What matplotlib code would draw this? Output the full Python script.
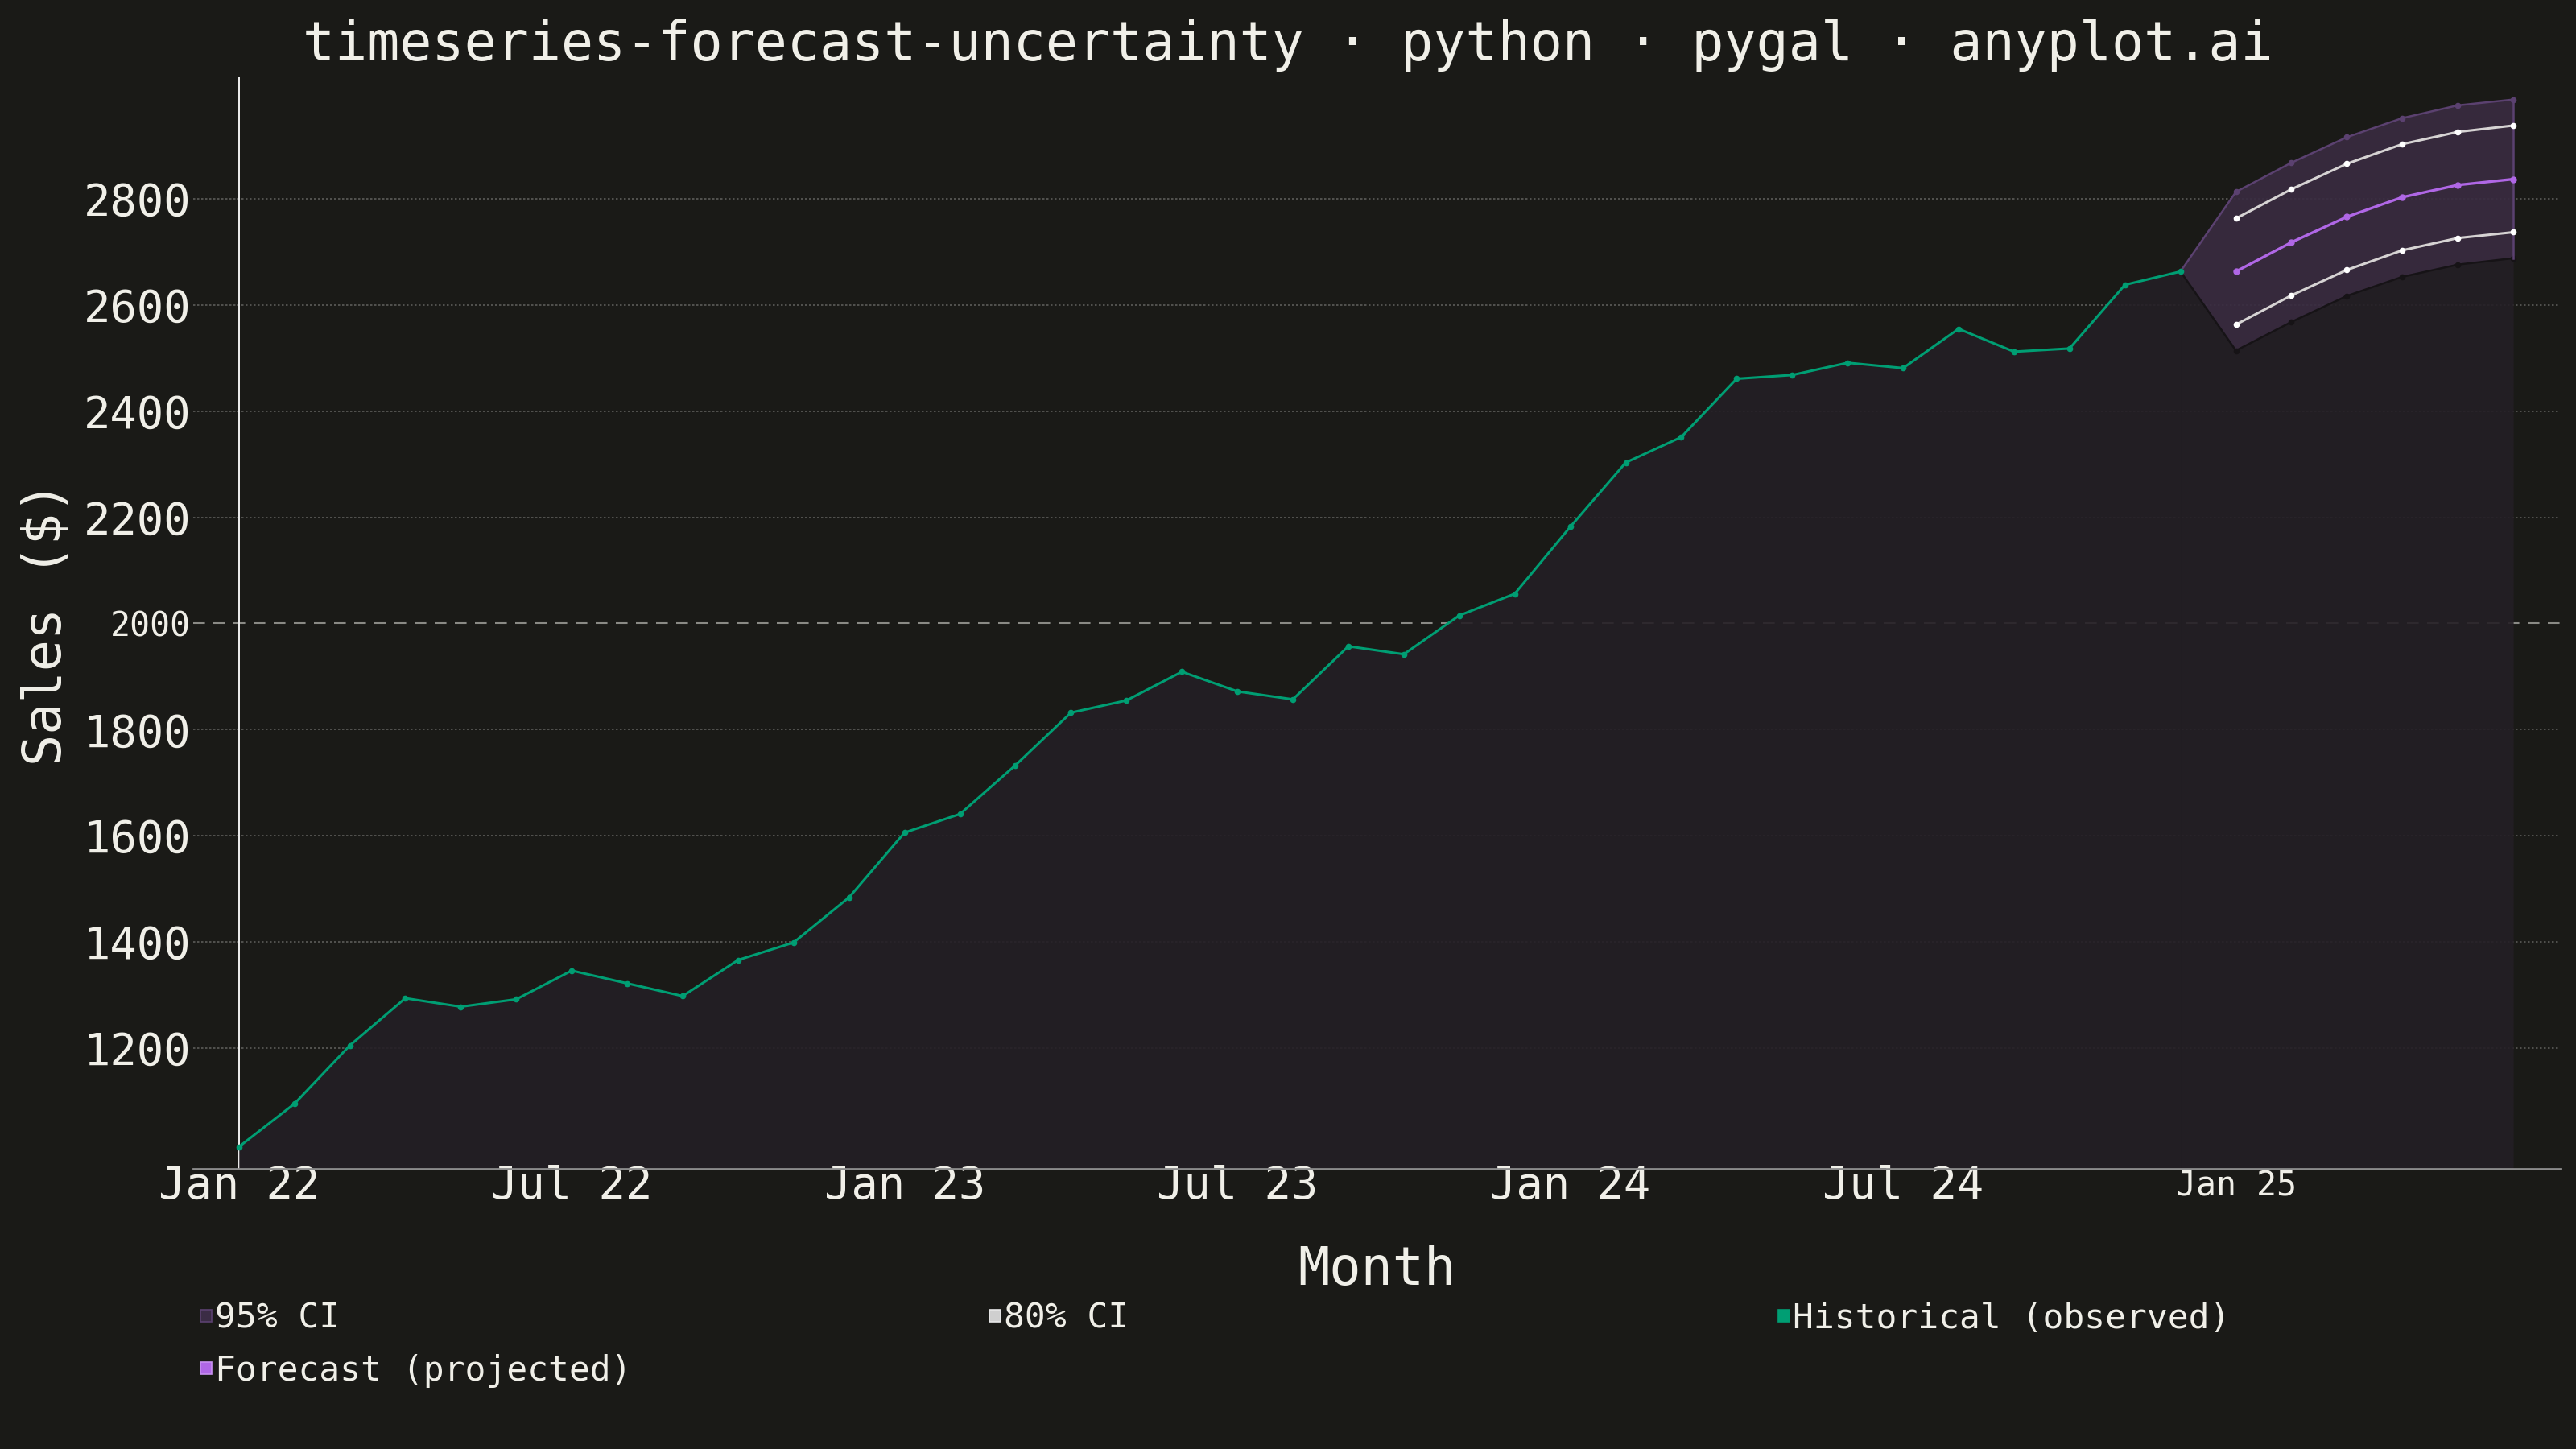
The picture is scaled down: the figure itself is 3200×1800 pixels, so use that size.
import matplotlib
matplotlib.use("Agg")
import matplotlib.pyplot as plt
from matplotlib.patches import Rectangle

# historical monthly sales, Jan 2022 - Dec 2024
hist_sales = [1014, 1095, 1205, 1294, 1278, 1292, 1346, 1322, 1298, 1366, 1399, 1484,
              1606, 1641, 1733, 1832, 1855, 1909, 1872, 1857, 1957, 1942, 2015, 2056,
              2182, 2303, 2351, 2461, 2468, 2491, 2481, 2555, 2512, 2518, 2638, 2663]

# forecast Jan 2025 - Jun 2025
forecast_mean = [2663, 2718, 2766, 2803, 2826, 2837]
ci80_upper = [2763, 2818, 2866, 2903, 2926, 2938]
ci80_lower = [2563, 2618, 2666, 2703, 2726, 2737]
ci95_upper = [2813, 2868, 2916, 2952, 2976, 2987]
ci95_lower = [2514, 2568, 2617, 2653, 2676, 2688]

tick_pos = [0, 6, 12, 18, 24, 30, 36]
tick_labels = ["Jan 22", "Jul 22", "Jan 23", "Jul 23", "Jan 24", "Jul 24", "Jan 25"]
y_ticks = [1200, 1400, 1600, 1800, 2000, 2200, 2400, 2600, 2800]

legend_labels = ["95% CI", "80% CI", "Historical (observed)", "Forecast (projected)"]
legend_colors = ["#3b2c45", "#cfcfcf", "#009e73", "#b067e6"]
legend_edges = ["#5b4170", "#e8e8e8", "#009e73", "#c890f0"]

BG = "#1a1a17"
TXT = "#f0efe8"
AREA = "#241f25"
BAND = "#392b40"
GREEN = "#009e73"
PURPLE = "#b067e6"
DIM = "#5b4170"
LIGHT = "#d6d3d3"

plt.rcParams["font.family"] = ["DejaVu Sans Mono", "DejaVu Sans"]

fig = plt.figure(figsize=(32, 18), dpi=100, facecolor=BG)
ax = fig.add_axes([0.075, 0.1935, 0.91875, 0.7532])
ax.set_facecolor(BG)

n_hist = len(hist_sales)
x_hist = list(range(n_hist))
x_fc = list(range(n_hist, n_hist + len(forecast_mean)))
x_band = [n_hist - 1] + x_fc
band_up = [hist_sales[-1]] + ci95_upper
band_lo = [hist_sales[-1]] + ci95_lower

ymin, ymax = 973, 3029
ax.set_xlim(-0.823, x_fc[-1] + 0.84)
ax.set_ylim(ymin, ymax)

# grid
for t in y_ticks:
    if t == 2000:
        ax.axhline(t, color="#8a8a85", lw=1.5, dashes=(7, 5), zorder=0)
    else:
        ax.axhline(t, color="#5c5c58", lw=1.2, dashes=(1.5, 1.5), zorder=0)

ax.axvline(0, color="#f0f0f0", lw=1.4, zorder=0.5)

# historical area + line
ax.fill_between(x_hist, ymin, hist_sales, color=AREA, alpha=0.9, lw=0, zorder=1)
ax.plot(x_hist, hist_sales, color=GREEN, lw=2.2, marker="o", ms=4.5, zorder=4)

# 95% band
ax.fill_between(x_band, band_lo, band_up, color=BAND, alpha=0.92, lw=0, zorder=2)
ax.fill_between(x_band, ymin, band_lo, color=AREA, alpha=0.9, lw=0, zorder=2)
ax.plot(x_band, band_up, color=DIM, lw=1.8, marker="o", ms=4.5, zorder=3)
ax.plot(x_band, band_lo, color="#161316", lw=1.8, marker="o", ms=4.5, zorder=3)
ax.plot([x_band[-1], x_band[-1]], [band_lo[-1], band_up[-1]], color=DIM, lw=1.8, zorder=3)

# 80% bounds and mean forecast
ax.plot(x_fc, ci80_upper, color=LIGHT, lw=2.2, marker="o", mfc="white", mec="white", ms=4.5, zorder=4)
ax.plot(x_fc, ci80_lower, color=LIGHT, lw=2.2, marker="o", mfc="white", mec="white", ms=4.5, zorder=4)
ax.plot(x_fc, forecast_mean, color=PURPLE, lw=2.4, marker="o", ms=5, zorder=5)

# axes styling
for s in ["top", "right", "left"]:
    ax.spines[s].set_visible(False)
ax.spines["bottom"].set_color("#8c8c8c")
ax.spines["bottom"].set_linewidth(2)

ax.set_xticks(tick_pos)
ax.set_xticklabels(tick_labels)
ax.set_yticks(y_ticks)
ax.set_yticklabels([str(t) for t in y_ticks])
ax.tick_params(axis="x", length=0, pad=16, labelsize=40, colors=TXT)
ax.tick_params(axis="y", length=0, pad=2, labelsize=40, colors=TXT)
for lab in ax.get_xticklabels():
    lab.set_verticalalignment("center")
    if lab.get_text() == "Jan 25":
        lab.set_fontsize(30)
for lab in ax.get_yticklabels():
    if lab.get_text() == "2000":
        lab.set_fontsize(30)

fig.text(0.5, 1 - 75 / 1800, "timeseries-forecast-uncertainty · python · pygal · anyplot.ai",
         ha="center", va="baseline", fontsize=48, color=TXT)
fig.text(1710 / 3200, 1 - 1596 / 1800, "Month", ha="center", va="baseline", fontsize=47, color=TXT)
fig.text(58 / 3200, 1 - 774 / 1800, "Sales ($)", ha="center", va="center", rotation=90,
         fontsize=47, color=TXT)

# legend
col_x = [249, 1229, 2209]
row_y = [1650, 1715]
for i, (lab, fc, ec) in enumerate(zip(legend_labels, legend_colors, legend_edges)):
    cx = col_x[i % 3]
    by = row_y[i // 3]
    fig.patches.append(Rectangle((cx / 3200, 1 - (by - 8) / 1800), 14 / 3200, 15 / 1800,
                                 transform=fig.transFigure, facecolor=fc, edgecolor=ec, lw=1.2))
    fig.text((cx + 18) / 3200, 1 - by / 1800, lab, ha="left", va="baseline", fontsize=31, color=TXT)

fig.savefig("out.png", dpi=100, facecolor=BG)
